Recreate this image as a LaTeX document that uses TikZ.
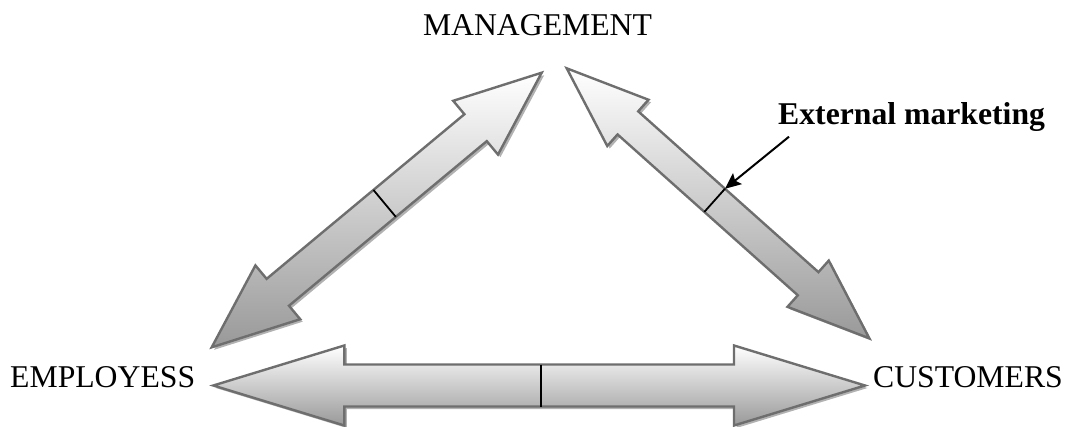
\documentclass[tikz,border=0pt]{standalone}
\usepackage{fontspec}
\setmainfont{Liberation Serif}
\usepackage{tikz}
\usetikzlibrary{arrows.meta, calc, shadows}

% double headed block arrow between two tips:
% #1,#2 tips, #3 half shaft, #4 half head, #5 head length
\newcommand{\dblarrow}[5]{%
  \path ($(#1)!#5!(#2)$) coordinate (h1) ($(#2)!#5!(#1)$) coordinate (h2);
  \path[bigarrow] (#1) -- ($(h1)!#4!90:(#1)$) -- ($(h1)!#3!90:(#1)$)
    -- ($(h2)!#3!-90:(#2)$) -- ($(h2)!#4!-90:(#2)$) -- (#2)
    -- ($(h2)!#4!90:(#2)$) -- ($(h2)!#3!90:(#2)$)
    -- ($(h1)!#3!-90:(#1)$) -- ($(h1)!#4!-90:(#1)$) -- cycle;
}

\begin{document}
\begin{tikzpicture}[
    x=1pt,
    y=1pt,
    bigarrow/.style={draw=black!57, line width=2.4pt, line join=miter,
                     top color=white, bottom color=black!40,
                     drop shadow={shadow xshift=2.5pt, shadow yshift=-2.5pt,
                                  fill=black!30, opacity=1}},
    tickmark/.style={line width=1.8pt, black},
    pointer/.style={-{Stealth[length=16pt, width=14pt, inset=3pt]},
                    line width=2pt, black},
    lbl/.style={inner sep=0pt, font=\fontsize{31.7}{38}\selectfont},
]
\useasboundingbox (0,0) rectangle (1068,426);

% labels
\node[lbl, anchor=base]      (mgmt) at (537.5,390) {MANAGEMENT};
\node[lbl, anchor=base west] (empl) at (10,39)     {EMPLOYESS};
\node[lbl, anchor=base east] (cust) at (1063,39)   {CUSTOMERS};
\node[lbl, anchor=base west, font=\fontsize{31.7}{38}\selectfont\bfseries]
     (extm) at (778,301) {External marketing};

% arrow tips
\coordinate (le1) at (211.7,78.7);
\coordinate (le2) at (541.7,353.3);
\coordinate (ri1) at (566.7,357.7);
\coordinate (ri2) at (869.3,87.7);
\coordinate (bo1) at (213.3,40.5);
\coordinate (bo2) at (865,40.5);

% block arrows
\dblarrow{le1}{le2}{17.5pt}{35pt}{86pt}
\dblarrow{ri1}{ri2}{15.5pt}{31pt}{82pt}
\dblarrow{bo1}{bo2}{21pt}{40pt}{131pt}

% marks across the shafts
\coordinate (t1) at ($(le1)!0.524!(le2)$);
\coordinate (t2) at ($(ri1)!0.489!(ri2)$);
\coordinate (t3) at ($(bo1)!0.503!(bo2)$);
\draw[tickmark] ($(t1)!17.5pt!90:(le2)$) -- ($(t1)!17.5pt!-90:(le2)$);
\draw[tickmark] ($(t2)!15.5pt!90:(ri2)$) coordinate (em)
    -- ($(t2)!15.5pt!-90:(ri2)$);
\draw[tickmark] ($(t3)!21pt!90:(bo2)$) -- ($(t3)!21pt!-90:(bo2)$);

\draw[pointer] ([xshift=11pt, yshift=-4.5pt]extm.south west) -- (em);
\end{tikzpicture}
\end{document}
